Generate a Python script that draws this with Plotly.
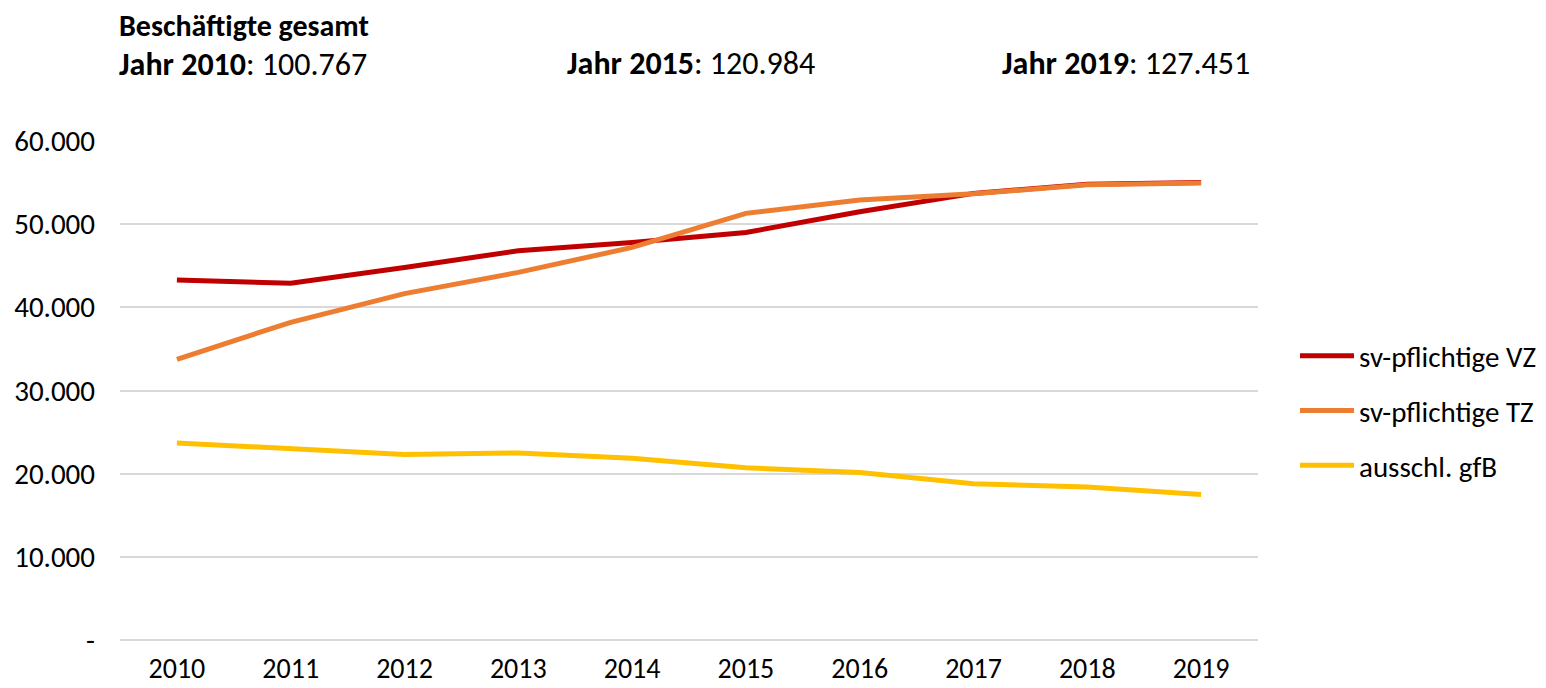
import plotly.graph_objects as go

years = ["2010", "2011", "2012", "2013", "2014", "2015", "2016", "2017", "2018", "2019"]
vz = [43300, 42900, 44800, 46800, 47800, 49000, 51500, 53700, 54800, 55000]
tz = [33750, 38200, 41650, 44200, 47200, 51300, 52900, 53650, 54750, 54950]
gfb = [23700, 23000, 22300, 22500, 21850, 20700, 20150, 18800, 18400, 17500]
series_names = ["sv-pflichtige VZ", "sv-pflichtige TZ", "ausschl. gfB"]
colors = ["#C00000", "#ED7D31", "#FFC000"]
ytick_vals = [0, 10000, 20000, 30000, 40000, 50000, 60000]
ytick_text = ["-", "10.000", "20.000", "30.000", "40.000", "50.000", "60.000"]
header_title = "Beschäftigte gesamt"
header_years = ["2010", "2015", "2019"]
header_totals = ["100.767", "120.984", "127.451"]

FONT = "Carlito, Calibri, Lato, sans-serif"
FS = 29

fig = go.Figure()
for i, (name, vals) in enumerate(zip(series_names, [vz, tz, gfb])):
    fig.add_trace(go.Scatter(
        x=years, y=vals, name=name, mode="lines",
        line=dict(color=colors[i], width=5),
        legendgroup=f"g{i}",
    ))

# page body has an 8px default margin; figure is sized to fit inside the window
fig.update_layout(
    width=1538, height=680,
    margin=dict(l=112, r=288, t=133, b=48, autoexpand=False),
    paper_bgcolor="white", plot_bgcolor="white",
    font=dict(family=FONT, size=FS, color="#000000"),
    showlegend=True,
    legend=dict(
        x=1.0325, y=0.459, xanchor="left", yanchor="middle",
        font=dict(size=FS, family=FONT),
        tracegroupgap=14, itemwidth=54,
        bgcolor="rgba(0,0,0,0)",
    ),
    xaxis=dict(
        type="category", range=[-0.5, 9.5], automargin=False,
        showgrid=False, showline=False, zeroline=False,
        ticks="", ticklabelstandoff=9,
        tickfont=dict(size=28, family=FONT),
    ),
    yaxis=dict(
        range=[0, 60000], tickvals=ytick_vals, ticktext=ytick_text,
        automargin=False,
        showgrid=True, gridcolor="#D9D9D9", gridwidth=1.5,
        zeroline=True, zerolinecolor="#D9D9D9", zerolinewidth=1.5,
        showline=False, ticks="", ticklabelstandoff=24,
        tickfont=dict(size=FS, family=FONT),
    ),
)

header_x = [117, 565, 1000]
year_lines = [f"<b>Jahr {yr}</b>: {tot}" for yr, tot in zip(header_years, header_totals)]

# title + first year line as one two-line block
fig.add_annotation(
    xref="paper", yref="paper", x=(header_x[0] - 120) / 1138, y=1 + (141 - 45) / 499,
    xanchor="left", yanchor="middle", align="left", showarrow=False,
    text=f"<b>{header_title}</b><br><span style='font-size:32px'>{year_lines[0]}</span>",
    font=dict(size=30, family=FONT),
)
for hx, line in zip(header_x[1:], year_lines[1:]):
    fig.add_annotation(
        xref="paper", yref="paper", x=(hx - 120) / 1138, y=1 + (141 - 63) / 499,
        xanchor="left", yanchor="middle", showarrow=False,
        text=line, font=dict(size=32, family=FONT),
    )

fig.write_html("out.html")
